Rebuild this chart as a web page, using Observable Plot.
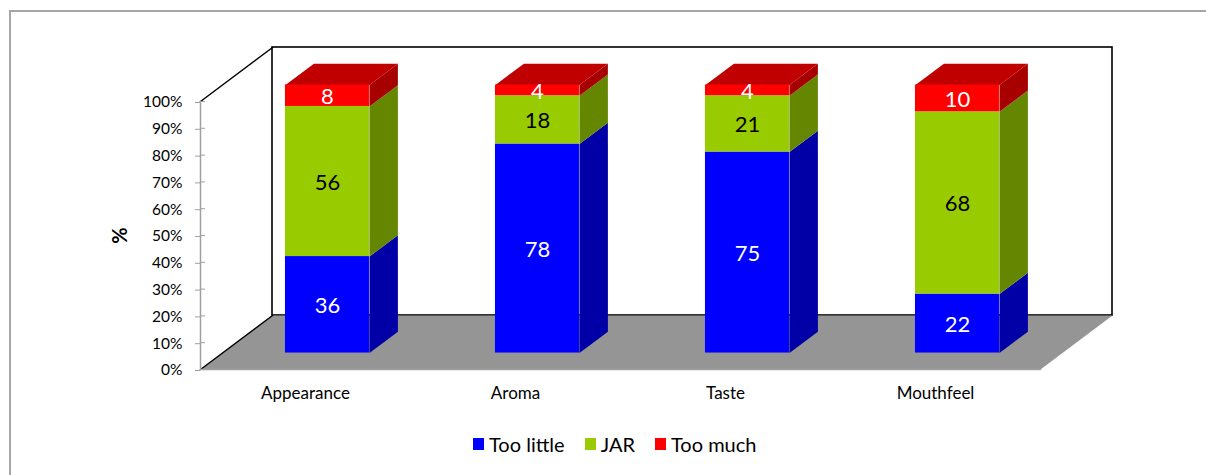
<!DOCTYPE html>
<html>
<head>
<meta charset="utf-8">
<script src="https://cdn.jsdelivr.net/npm/d3@7"></script>
<script src="https://cdn.jsdelivr.net/npm/@observablehq/plot@0.6"></script>
<style>
  html, body { margin: 0; padding: 0; background: #fff; overflow: hidden; width: 1206px; height: 475px; }
  body { position: relative; font-family: Lato, "Open Sans", sans-serif; }
  #frame { position: absolute; left: 9px; top: 10px; width: 1220px; height: 500px; border-left: 2px solid #a6a6a6; border-top: 2px solid #a6a6a6; }
  #chart { position: absolute; left: 0; top: 0; }
  #legend { position: absolute; left: 473px; top: 432px; display: flex; align-items: center; font-size: 20px; color: #000; }
  #legend .sw { width: 11px; height: 12px; display: inline-block; margin-right: 5px; }
  #legend .it { display: flex; align-items: center; margin-right: 20px; }
</style>
</head>
<body>
<div id="frame"></div>
<div id="chart"></div>
<div id="legend"></div>
<script>
// ---- data ----
const categories = ["Appearance", "Aroma", "Taste", "Mouthfeel"];
const tooLittle = [36, 78, 75, 22];
const jar = [56, 18, 21, 68];
const tooMuch = [8, 4, 4, 10];
const seriesNames = ["Too little", "JAR", "Too much"];
const yTicks = [0, 10, 20, 30, 40, 50, 60, 70, 80, 90, 100];

// ---- styles / 3D geometry ----
const frontColors = ["#0000FF", "#99CC00", "#FF0000"];
const sideColors = ["#0000A6", "#648600", "#A60000"];
const topColor = "#C00000";
const labelColors = ["white", "black", "white"];
const D = 72 / 210;      // depth offset in category units
const DY = 54 / 2.68;    // depth offset in percent units
const f0 = 0.305, f1 = 0.70; // bar front/back depth fractions
const halfW = 0.2;

const seriesVals = [tooLittle, jar, tooMuch];
const n = categories.length;

// Build stacked segments
const segs = [];
categories.forEach((c, i) => {
  let cum = 0;
  seriesVals.forEach((vals, s) => {
    const v = vals[i];
    segs.push({cat: c, i, s, v, y0: cum, y1: cum + v});
    cum += v;
  });
});

const cx = i => i + 0.5 + f0 * D;
const fy = y => y + f0 * DY;
const dD = (f1 - f0) * D, dDY = (f1 - f0) * DY;

// Faces as polygons
const polys = [];
let pid = 0;
function addPoly(fill, pts) {
  const id = pid++;
  pts.forEach(([x, y]) => polys.push({id, fill, x, y}));
}
segs.forEach(d => {
  const xr = cx(d.i) + halfW, xl = cx(d.i) - halfW;
  addPoly(sideColors[d.s], [[xr, fy(d.y0)], [xr + dD, fy(d.y0) + dDY], [xr + dD, fy(d.y1) + dDY], [xr, fy(d.y1)]]);
  if (d.s === seriesVals.length - 1) {
    const t = fy(d.y1);
    addPoly(topColor, [[xl, t], [xr, t], [xr + dD, t + dDY], [xl + dD, t + dDY]]);
  }
});

const floor = [[0, 0], [n, 0], [n + D, DY], [D, DY]].map(([x, y]) => ({x, y}));
const wall = [{x1: D, x2: n + D, y1: DY, y2: 100 + DY}];

const plot = Plot.plot({
  width: 1206,
  height: 410,
  marginLeft: 200,
  marginRight: 94,
  marginTop: 46,
  marginBottom: 41,
  x: {domain: [0, n + D], axis: null},
  y: {domain: [0, 120.52], axis: null},
  color: {type: "identity"},
  style: {fontFamily: "Lato, 'Open Sans', sans-serif", background: "transparent"},
  marks: [
    // back wall
    Plot.rect(wall, {x1: "x1", x2: "x2", y1: "y1", y2: "y2", fill: "white", stroke: "black", strokeWidth: 1.6}),
    // floor
    Plot.line(floor, {x: "x", y: "y", fill: "#959595", stroke: "none", curve: "linear-closed"}),
    Plot.line([{x: D, y: DY}, {x: n + D, y: DY}], {x: "x", y: "y", stroke: "#555", strokeWidth: 1}),
    Plot.line([{x: 0, y: 0}, {x: D, y: DY}], {x: "x", y: "y", stroke: "black", strokeWidth: 1.5}),
    Plot.line([{x: 0, y: 100}, {x: D, y: 100 + DY}], {x: "x", y: "y", stroke: "black", strokeWidth: 1.5}),
    Plot.line([{x: 0, y: 0}, {x: n, y: 0}], {x: "x", y: "y", stroke: "#a0a0a0", strokeWidth: 1.5}),
    // bars: sides/top
    Plot.line(polys, {x: "x", y: "y", z: "id", fill: "fill", stroke: "none", curve: "linear-closed"}),
    // bars: fronts
    Plot.rect(segs, {
      x1: d => cx(d.i) - halfW, x2: d => cx(d.i) + halfW,
      y1: d => fy(d.y0), y2: d => fy(d.y1),
      fill: d => frontColors[d.s]
    }),
    // data labels
    Plot.text(segs, {
      x: d => cx(d.i), y: d => fy((d.y0 + d.y1) / 2),
      text: d => String(d.v), fill: d => labelColors[d.s],
      fontSize: 22, dy: 1.5
    }),
    // y axis
    Plot.ruleX([0], {y1: () => 0, y2: () => 100, stroke: "#a0a0a0", strokeWidth: 1.5}),
    Plot.axisY(yTicks, {
      anchor: "left", tickSize: 5, tickPadding: 13, stroke: "#a0a0a0",
      tickFormat: d => d + "%", fontSize: 15.5, fill: "black", dy: 1
    }),
    Plot.ruleY(yTicks, {x1: () => 0, x2: () => 5 / 210, stroke: "#a0a0a0", strokeWidth: 1}),
    Plot.text(["%"], {x: () => 0, y: () => 50, dx: -80, rotate: -90, fontSize: 20, fontWeight: "bold", fill: "black"}),
    // category labels
    Plot.text(categories, {x: (d, i) => i + 0.5, y: () => 0, dy: 24, text: d => d, fontSize: 17, fill: "black"})
  ]
});
document.getElementById("chart").appendChild(plot);

// legend
const legend = document.getElementById("legend");
seriesNames.forEach((name, s) => {
  const it = document.createElement("span");
  it.className = "it";
  const sw = document.createElement("span");
  sw.className = "sw";
  sw.style.background = frontColors[s];
  it.appendChild(sw);
  it.appendChild(document.createTextNode(name));
  legend.appendChild(it);
});
</script>
</body>
</html>
